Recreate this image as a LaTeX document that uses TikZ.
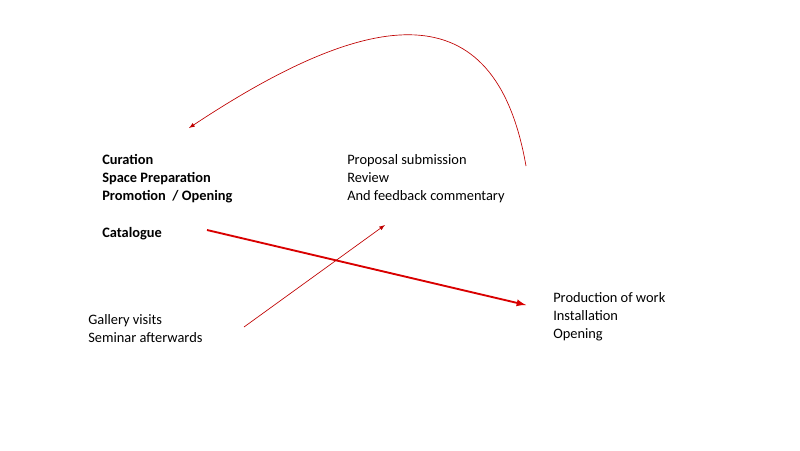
\documentclass[tikz,border=0pt]{standalone}
\usepackage{fontspec}
\setmainfont{Carlito}
\begin{document}
\begin{tikzpicture}[x=0.75pt,y=-0.75pt,
  txt/.style={anchor=north west,inner sep=0pt,align=left,font=\fontsize{10.8}{13.5}\selectfont},
  thin arrow/.style={draw=red!75!black,line width=0.5pt,-latex},
  thick arrow/.style={draw=red!85!black,line width=1.4pt,-latex}]
\useasboundingbox (0,0) rectangle (800,450);
\node[txt,font=\fontsize{10.8}{13.5}\selectfont\bfseries] (cur) at (102,154) {Curation\\Space Preparation\\Promotion\ \ / Opening};
\node[txt,font=\fontsize{10.8}{13.5}\selectfont\bfseries] (cat) at (102,227) {Catalogue};
\node[txt] (prop) at (347,154) {Proposal submission\\Review\\And feedback commentary};
\node[txt] (prod) at (553,292) {Production of work\\Installation\\Opening};
\node[txt] (gal) at (88,314) {Gallery visits\\Seminar afterwards};
\coordinate (c1s) at (526,166);
\coordinate (c1e) at (189,128);
\coordinate (t1s) at (207,230);
\coordinate (t1e) at (526,305);
\coordinate (t2s) at (244,327);
\coordinate (t2e) at (385,225);
\draw[thin arrow] (c1s) .. controls (495,-12) and (370,8) .. (c1e);
\draw[thick arrow] (t1s) -- (t1e);
\draw[thin arrow] (t2s) -- (t2e);
\end{tikzpicture}
\end{document}
